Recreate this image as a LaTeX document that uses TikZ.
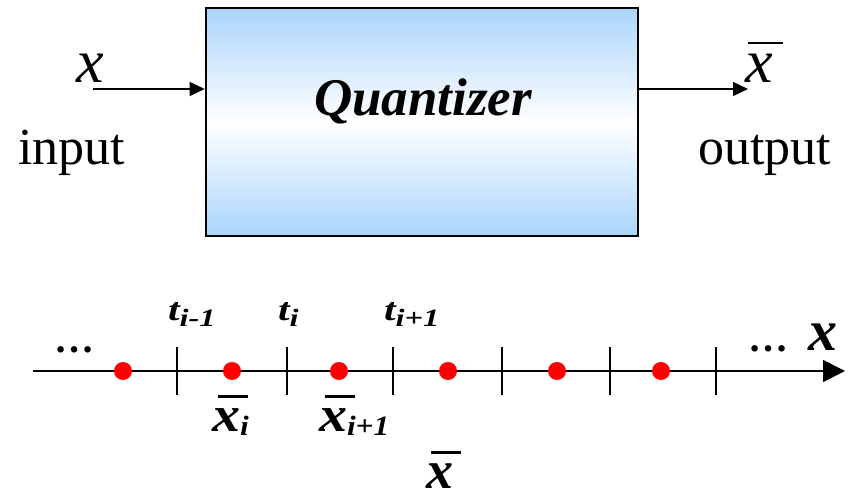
\documentclass[tikz,border=0pt]{standalone}
\usepackage{fontspec}
\setmainfont{Liberation Serif}
\usetikzlibrary{arrows.meta}
\definecolor{qblue}{HTML}{AAD5FC}
\newcommand\barred[4]{\leavevmode\rlap{\hspace*{#1}\rule[#2]{#3}{#4}}}
\newcommand\fs[1]{\fontsize{#1}{#1}\selectfont}
\newcommand\wide[1]{\scalebox{1.3}[1]{#1}}
\begin{document}
\begin{tikzpicture}[x=1pt,y=-1pt,
  lbl/.style={inner sep=0pt, outer sep=0pt, anchor=base west},
  sig/.style={line width=1.3pt, -{Triangle[length=15pt,width=14pt]}},
  tick/.style={line width=1.3pt},
  dot/.style={circle, fill=red, inner sep=0pt, minimum size=18pt},
  bi/.style={lbl, font=\bfseries\itshape}]
\useasboundingbox (0,0) rectangle (852,502);
% quantizer box
\node[draw, line width=2.6pt, minimum width=432pt, minimum height=228pt,
      top color=qblue, bottom color=qblue, middle color=white, inner sep=0pt] (Q) at (422,122) {};
\node[bi, font=\fs{53}\bfseries\itshape] (qt) at (314,116) {Quantizer};
% input / output
\coordinate (xin) at (93,89);
\coordinate (xout) at (748,89);
\draw[sig] (xin) -- (Q.west |- xin);
\draw[sig] (Q.east |- xout) -- (xout);
\node[lbl, font=\fs{62}\itshape] (xl) at (76,83) {x};
\node[lbl, font=\fs{52}] (inl) at (18,165) {input};
\node[lbl, font=\fs{62}\itshape] (xbl) at (745,83) {\barred{3pt}{39pt}{35pt}{1.6pt}x};
\node[lbl, font=\fs{52}] (outl) at (698,165) {output};
% axis
\coordinate (a0) at (33,371);
\coordinate (a1) at (845,371);
\draw[line width=1.6pt, -{Triangle[length=22pt,width=22pt]}] (a0) -- (a1);
\foreach \x in {177,287,393,502,610,716} \draw[tick] (\x,347) -- (\x,395);
\foreach \x [count=\i] in {123,232,339,448,557,661} \node[dot] (d\i) at (\x,371) {};
% labels
\node[bi, font=\fs{32}\bfseries\itshape] (t1) at (168,321) {\wide{t\raisebox{-6pt}{\fs{25}i-1}}};
\node[bi, font=\fs{32}\bfseries\itshape] (t2) at (278,321) {\wide{t\raisebox{-6pt}{\fs{25}i}}};
\node[bi, font=\fs{32}\bfseries\itshape] (t3) at (384,321) {\wide{t\raisebox{-6pt}{\fs{25}i+1}}};
\node[bi, font=\fs{50}\bfseries\itshape] (x1) at (212,432) {\scalebox{1.12}[1]{\barred{5pt}{34pt}{27pt}{2.5pt}x\raisebox{-4pt}{\fs{28}i}}};
\node[bi, font=\fs{50}\bfseries\itshape] (x2) at (319,432) {\scalebox{1.12}[1]{\barred{5pt}{34pt}{27pt}{2.5pt}x\raisebox{-4pt}{\fs{28}i+1}}};
\node[bi, font=\fs{54}\bfseries\itshape] (xb) at (426,489) {\barred{5pt}{35pt}{30pt}{3pt}x};
\node[bi, font=\fs{40}\bfseries] (e1) at (54,353) {…};
\node[bi, font=\fs{40}\bfseries] (e2) at (748,352) {…};
\node[bi, font=\fs{58}\bfseries\itshape] (xr) at (808,351) {x};
\end{tikzpicture}
\end{document}
